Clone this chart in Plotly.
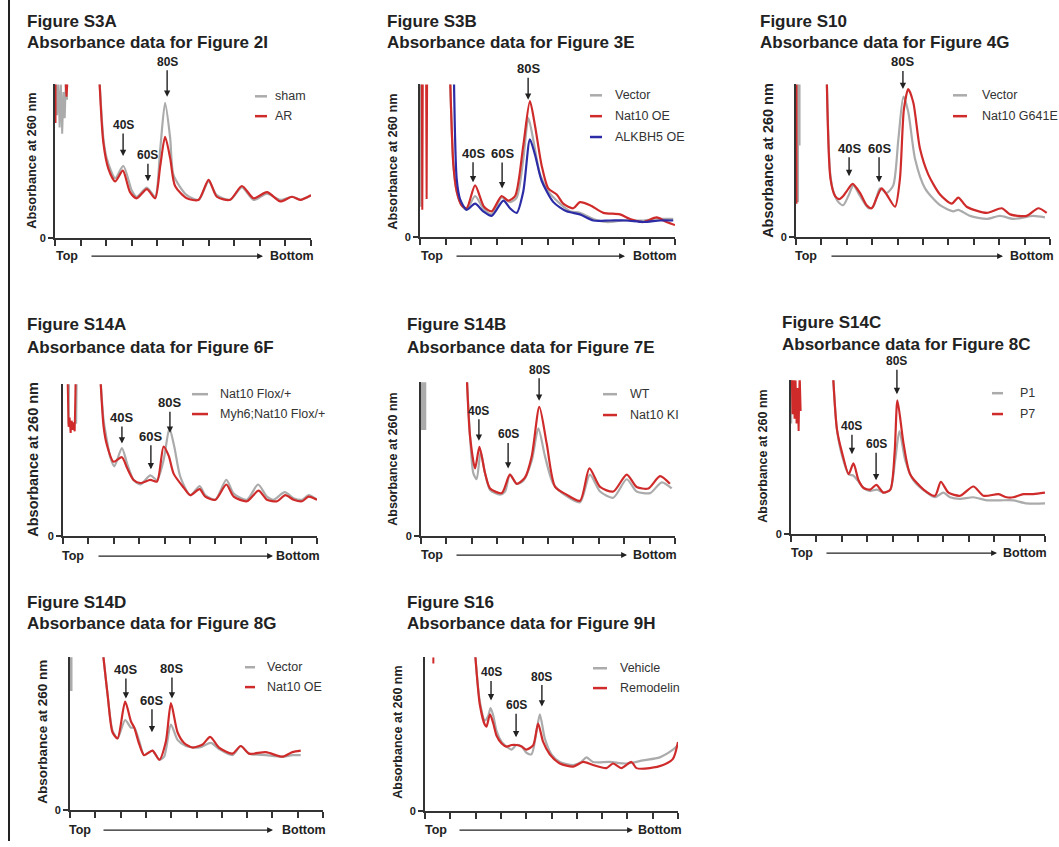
import plotly.graph_objects as go

W, H = 1059, 847
FONT = "Liberation Sans, Arial, Helvetica, sans-serif"
GRAY = "#ababab"
RED = "#cf2b2b"
BLUE = "#2c2ca6"
INK = "#222222"

# ---------------- data (fraction position 0-10, relative A260 0-1) ----------------
# Figure S3A
s3a_sham_x = [1.73, 1.89, 2.02, 2.35, 2.67, 3.00, 3.19, 3.59, 3.91, 4.11, 4.30, 4.50, 4.63, 5.15, 5.61, 6.00, 6.32, 6.84, 7.30, 7.76, 8.28, 8.80, 9.26, 9.58, 10.0]
s3a_sham_y = [1.05, 0.65, 0.52, 0.39, 0.47, 0.31, 0.27, 0.33, 0.27, 0.58, 0.88, 0.65, 0.41, 0.28, 0.25, 0.37, 0.28, 0.25, 0.33, 0.25, 0.29, 0.25, 0.27, 0.25, 0.28]
s3a_ar_x = [1.73, 1.89, 2.09, 2.35, 2.65, 2.93, 3.19, 3.59, 3.91, 4.11, 4.30, 4.50, 4.69, 5.15, 5.61, 6.00, 6.32, 6.84, 7.30, 7.76, 8.28, 8.80, 9.26, 9.58, 10.0]
s3a_ar_y = [1.05, 0.62, 0.45, 0.37, 0.44, 0.30, 0.26, 0.32, 0.26, 0.47, 0.66, 0.52, 0.34, 0.26, 0.25, 0.38, 0.27, 0.25, 0.34, 0.26, 0.30, 0.24, 0.27, 0.25, 0.28]
s3a_sham_spike_x = [0.03, 0.08, 0.13, 0.18, 0.23, 0.28, 0.33, 0.38, 0.43, 0.47]
s3a_sham_spike_y = [1.05, 0.80, 1.02, 0.72, 1.00, 0.68, 0.95, 0.78, 1.05, 0.90]
s3a_ar_spike_x = [0.02, 0.02, None, 0.40, 0.45, 0.50]
s3a_ar_spike_y = [1.05, 0.75, None, 1.05, 0.92, 1.05]

# Figure S3B
s3b_vec_x = [1.18, 1.31, 1.44, 1.63, 1.83, 2.16, 2.48, 2.81, 3.20, 3.53, 3.79, 4.05, 4.25, 4.44, 4.71, 5.03, 5.49, 5.88, 6.27, 6.80, 7.32, 7.97, 8.76, 9.41, 9.93]
s3b_vec_y = [1.05, 0.47, 0.30, 0.21, 0.18, 0.27, 0.19, 0.15, 0.26, 0.23, 0.26, 0.51, 0.78, 0.64, 0.41, 0.30, 0.22, 0.17, 0.16, 0.12, 0.10, 0.11, 0.11, 0.12, 0.12]
s3b_nat_x = [1.18, 1.31, 1.44, 1.63, 1.83, 2.16, 2.51, 2.81, 3.20, 3.46, 3.73, 4.05, 4.31, 4.51, 4.77, 5.03, 5.36, 5.62, 6.01, 6.27, 6.67, 7.19, 7.84, 8.24, 8.76, 9.28, 9.67, 10.0]
s3b_nat_y = [1.05, 0.47, 0.30, 0.21, 0.19, 0.34, 0.20, 0.17, 0.27, 0.24, 0.27, 0.60, 0.89, 0.73, 0.47, 0.32, 0.28, 0.22, 0.19, 0.23, 0.21, 0.16, 0.15, 0.12, 0.10, 0.13, 0.10, 0.08]
s3b_alk_x = [1.33, 1.44, 1.57, 1.83, 2.16, 2.48, 2.81, 3.27, 3.53, 3.79, 4.05, 4.31, 4.51, 4.77, 5.23, 5.75, 6.27, 6.80, 7.45, 8.10, 8.76, 9.41, 9.93]
s3b_alk_y = [1.05, 0.38, 0.25, 0.18, 0.22, 0.17, 0.14, 0.24, 0.19, 0.16, 0.30, 0.64, 0.54, 0.37, 0.23, 0.17, 0.15, 0.11, 0.11, 0.11, 0.10, 0.11, 0.11]
s3b_vec_spike_x = [0.04, 0.04]
s3b_vec_spike_y = [1.05, 0.20]
s3b_nat_spike_x = [0.07, 0.09, 0.11, None, 0.24, 0.26, 0.28]
s3b_nat_spike_y = [1.05, 0.18, 1.05, None, 1.05, 0.25, 1.05]

# Figure S10
s10_vec_x = [1.21, 1.34, 1.47, 1.67, 1.86, 2.06, 2.26, 2.52, 2.85, 3.04, 3.31, 3.57, 3.83, 4.03, 4.23, 4.42, 4.69, 5.08, 5.67, 6.19, 6.39, 6.85, 7.51, 8.03, 8.56, 9.34, 9.80]
s10_vec_y = [1.05, 0.43, 0.30, 0.23, 0.21, 0.27, 0.34, 0.27, 0.19, 0.20, 0.32, 0.29, 0.34, 0.64, 0.92, 0.82, 0.51, 0.32, 0.21, 0.17, 0.18, 0.14, 0.12, 0.14, 0.12, 0.14, 0.13]
s10_mut_x = [1.21, 1.36, 1.54, 1.71, 1.86, 1.99, 2.23, 2.52, 2.78, 2.98, 3.18, 3.37, 3.57, 3.90, 4.09, 4.25, 4.42, 4.62, 4.88, 5.21, 5.67, 6.13, 6.39, 6.72, 7.51, 8.10, 8.43, 9.08, 9.54, 9.87]
s10_mut_y = [1.05, 0.38, 0.27, 0.25, 0.27, 0.30, 0.35, 0.29, 0.21, 0.19, 0.26, 0.32, 0.28, 0.20, 0.38, 0.84, 0.97, 0.88, 0.58, 0.41, 0.28, 0.22, 0.26, 0.20, 0.16, 0.19, 0.15, 0.14, 0.19, 0.16]
s10_vec_spike_x = [0.08, 0.08, None, 0.14, 0.14]
s10_vec_spike_y = [1.05, 0.23, None, 1.05, 0.60]
s10_mut_spike_x = [0.02, 0.02]
s10_mut_spike_y = [1.05, 0.22]

# Figure S14A
s14a_flox_x = [1.47, 1.60, 1.73, 1.86, 2.02, 2.32, 2.52, 2.78, 3.04, 3.44, 3.70, 3.96, 4.19, 4.38, 4.62, 5.01, 5.38, 5.60, 6.00, 6.43, 6.72, 7.24, 7.68, 8.03, 8.29, 8.73, 9.08, 9.41, 9.67, 10.0]
s14a_flox_y = [1.05, 0.76, 0.63, 0.52, 0.46, 0.58, 0.48, 0.37, 0.34, 0.40, 0.37, 0.50, 0.71, 0.59, 0.39, 0.27, 0.33, 0.27, 0.24, 0.37, 0.28, 0.24, 0.34, 0.26, 0.24, 0.29, 0.25, 0.24, 0.27, 0.24]
s14a_myh6_x = [1.47, 1.60, 1.73, 1.99, 2.32, 2.52, 2.78, 3.04, 3.44, 3.70, 3.96, 4.16, 4.36, 4.75, 5.01, 5.38, 5.60, 6.00, 6.43, 6.72, 7.24, 7.70, 8.03, 8.43, 8.75, 9.08, 9.41, 9.67, 10.0]
s14a_myh6_y = [1.05, 0.72, 0.60, 0.49, 0.52, 0.45, 0.37, 0.35, 0.37, 0.36, 0.59, 0.53, 0.41, 0.32, 0.27, 0.31, 0.26, 0.24, 0.34, 0.26, 0.23, 0.30, 0.24, 0.23, 0.27, 0.24, 0.23, 0.26, 0.24]
s14a_flox_spike_x = [0.20, 0.22, 0.24, None, 0.50, 0.52, 0.54]
s14a_flox_spike_y = [1.05, 0.74, 1.05, None, 1.05, 0.74, 1.05]
s14a_myh6_spike_x = [0.18, 0.22, 0.26, 0.30, 0.34, 0.38, 0.42, 0.46, 0.50]
s14a_myh6_spike_y = [1.05, 0.72, 0.78, 0.68, 0.76, 0.70, 0.75, 0.69, 1.05]

# Figure S14B
s14b_wt_x = [1.80, 1.93, 2.06, 2.19, 2.35, 2.52, 2.72, 3.11, 3.31, 3.50, 3.77, 4.03, 4.36, 4.62, 4.88, 5.21, 5.73, 6.26, 6.65, 7.05, 7.57, 8.10, 8.49, 9.02, 9.48, 9.87]
s14b_wt_y = [1.05, 0.65, 0.41, 0.37, 0.55, 0.41, 0.30, 0.27, 0.29, 0.40, 0.34, 0.36, 0.49, 0.70, 0.52, 0.34, 0.26, 0.22, 0.40, 0.29, 0.25, 0.37, 0.29, 0.28, 0.35, 0.31]
s14b_ki_x = [1.80, 1.93, 2.13, 2.30, 2.52, 2.72, 3.18, 3.50, 3.77, 4.09, 4.36, 4.66, 4.95, 5.28, 5.73, 6.26, 6.63, 7.05, 7.57, 8.10, 8.49, 8.95, 9.41, 9.80]
s14b_ki_y = [1.05, 0.65, 0.44, 0.58, 0.41, 0.31, 0.28, 0.40, 0.34, 0.38, 0.52, 0.84, 0.60, 0.32, 0.27, 0.23, 0.44, 0.32, 0.29, 0.40, 0.32, 0.31, 0.39, 0.34]
s14b_wt_spike_x = [0.07, 0.07]
s14b_wt_spike_y = [1.05, 0.69]

# Figure S14C
s14c_p1_x = [1.65, 1.81, 2.01, 2.27, 2.46, 2.62, 2.86, 3.12, 3.38, 3.64, 3.91, 4.10, 4.27, 4.50, 4.82, 5.35, 5.67, 6.00, 6.26, 6.66, 7.18, 7.71, 8.23, 8.75, 9.28, 10.0]
s14c_p1_y = [1.05, 0.68, 0.51, 0.39, 0.38, 0.35, 0.30, 0.28, 0.29, 0.27, 0.29, 0.48, 0.67, 0.48, 0.35, 0.27, 0.24, 0.27, 0.24, 0.23, 0.24, 0.22, 0.22, 0.22, 0.20, 0.20]
s14c_p7_x = [1.65, 1.81, 2.01, 2.27, 2.46, 2.66, 2.86, 3.12, 3.36, 3.64, 3.91, 4.08, 4.19, 4.43, 4.69, 5.22, 5.67, 5.90, 6.20, 6.66, 7.18, 7.58, 8.17, 8.49, 8.75, 9.15, 9.54, 10.0]
s14c_p7_y = [1.05, 0.68, 0.53, 0.39, 0.46, 0.35, 0.30, 0.29, 0.32, 0.27, 0.29, 0.53, 0.87, 0.59, 0.39, 0.29, 0.25, 0.34, 0.27, 0.25, 0.31, 0.25, 0.26, 0.24, 0.24, 0.26, 0.26, 0.27]
s14c_p1_spike_x = [0.01, 0.01]
s14c_p1_spike_y = [1.05, 0.72]
s14c_p7_spike_x = [0.03, 0.06, 0.10, 0.14, 0.18, 0.22, 0.26, 0.30, 0.34, 0.38]
s14c_p7_spike_y = [1.05, 0.78, 1.05, 0.75, 1.00, 0.72, 0.95, 0.67, 1.05, 0.80]

# Figure S14D
s14d_vec_x = [1.29, 1.49, 1.68, 1.88, 2.18, 2.41, 2.54, 2.74, 2.93, 3.26, 3.53, 3.72, 3.99, 4.25, 4.58, 5.11, 5.57, 5.89, 6.42, 6.75, 7.08, 7.74, 8.39, 8.79, 9.12]
s14d_vec_y = [1.05, 0.75, 0.52, 0.47, 0.59, 0.54, 0.54, 0.45, 0.36, 0.39, 0.33, 0.35, 0.56, 0.46, 0.42, 0.41, 0.44, 0.40, 0.36, 0.42, 0.37, 0.36, 0.35, 0.36, 0.36]
s14d_oe_x = [1.29, 1.49, 1.68, 1.88, 2.18, 2.41, 2.54, 2.74, 2.93, 3.26, 3.53, 3.79, 3.99, 4.25, 4.51, 4.84, 5.24, 5.54, 5.89, 6.42, 6.75, 7.08, 7.74, 8.39, 8.79, 9.12]
s14d_oe_y = [1.05, 0.75, 0.51, 0.47, 0.71, 0.58, 0.54, 0.43, 0.36, 0.39, 0.33, 0.45, 0.70, 0.51, 0.44, 0.41, 0.43, 0.48, 0.41, 0.37, 0.42, 0.37, 0.38, 0.35, 0.38, 0.39]
s14d_vec_spike_x = [0.02, 0.02]
s14d_vec_spike_y = [1.05, 0.78]

# Figure S16
s16_veh_x = [1.97, 2.17, 2.37, 2.50, 2.59, 2.70, 2.83, 3.03, 3.22, 3.42, 3.62, 3.82, 4.01, 4.21, 4.41, 4.54, 4.74, 5.00, 5.33, 5.86, 6.18, 6.38, 6.64, 7.30, 7.96, 8.62, 9.28, 9.80, 10.0]
s16_veh_y = [1.05, 0.71, 0.59, 0.62, 0.67, 0.62, 0.52, 0.45, 0.42, 0.40, 0.43, 0.42, 0.38, 0.37, 0.52, 0.63, 0.47, 0.37, 0.32, 0.30, 0.32, 0.35, 0.32, 0.32, 0.31, 0.33, 0.35, 0.40, 0.43]
s16_rem_x = [1.97, 2.17, 2.37, 2.43, 2.57, 2.70, 2.83, 3.03, 3.22, 3.42, 3.62, 3.82, 4.01, 4.28, 4.47, 4.67, 4.93, 5.33, 5.86, 6.25, 6.64, 7.17, 7.43, 7.76, 8.16, 8.36, 8.88, 9.41, 9.80, 10.0]
s16_rem_y = [1.05, 0.69, 0.56, 0.55, 0.63, 0.57, 0.49, 0.44, 0.42, 0.43, 0.43, 0.42, 0.40, 0.43, 0.57, 0.45, 0.37, 0.31, 0.29, 0.32, 0.30, 0.28, 0.31, 0.28, 0.32, 0.28, 0.28, 0.30, 0.34, 0.45]
s16_rem_spike_x = [0.33, 0.33]
s16_rem_spike_y = [1.00, 0.96]

# peak label positions (fraction x, arrow-tip height)
peak_names = ["40S", "60S", "80S"]
s3a_peaks = [(2.66, 0.535), (3.63, 0.37), (4.38, 0.92)]
s3b_peaks = [(2.08, 0.36), (3.22, 0.32), (4.24, 0.90)]
s10_peaks = [(2.09, 0.40), (3.27, 0.36), (4.21, 0.97)]
s14a_peaks = [(2.32, 0.61), (3.46, 0.44), (4.21, 0.68)]
s14b_peaks = [(2.28, 0.62), (3.43, 0.44), (4.65, 0.88)]
s14c_peaks = [(2.40, 0.52), (3.35, 0.35), (4.17, 0.91)]
s14d_peaks = [(2.21, 0.73), (3.24, 0.51), (4.03, 0.73)]
s16_peaks = [(2.61, 0.72), (3.60, 0.48), (4.62, 0.68)]

# ---------------- panel layout (pixels) ----------------
panels = [
    dict(t1="Figure S3A", t2="Absorbance data for Figure 2I", tx=25, ty=(22, 43),
         box=(55, 311, 85, 240), ylab=(32, 162, 12.8), lab_size=12, arrow_len=(25, 20, 29),
         peaks=s3a_peaks, topbot=(67, 90, 263, 292, 258), leg=(255, 267, 273, [97, 117]),
         series=[("sham", GRAY, s3a_sham_x, s3a_sham_y, s3a_sham_spike_x, s3a_sham_spike_y, 2),
                 ("AR", RED, s3a_ar_x, s3a_ar_y, s3a_ar_spike_x, s3a_ar_spike_y, 2)]),
    dict(t1="Figure S3B", t2="Absorbance data for Figure 3E", tx=385, ty=(22, 43),
         box=(420, 675, 85, 239), ylab=(393, 163, 12.8), lab_size=13, arrow_len=(23, 29, 25),
         peaks=s3b_peaks, topbot=(432, 455, 625, 655, 258), leg=(590, 602, 613, [96, 117, 138]),
         series=[("Vector", GRAY, s3b_vec_x, s3b_vec_y, s3b_vec_spike_x, s3b_vec_spike_y, 2),
                 ("Nat10 OE", RED, s3b_nat_x, s3b_nat_y, s3b_nat_spike_x, s3b_nat_spike_y, 2),
                 ("ALKBH5 OE", BLUE, s3b_alk_x, s3b_alk_y, None, None, 2)]),
    dict(t1="Figure S10", t2="Absorbance data for Figure 4G", tx=758, ty=(22, 43),
         box=(796, 1050, 85, 239), ylab=(768, 162, 14.5), lab_size=13, arrow_len=(22, 28, 21),
         peaks=s10_peaks, topbot=(806, 830, 1003, 1032, 258), leg=(953, 967, 980, [96, 117]),
         series=[("Vector", GRAY, s10_vec_x, s10_vec_y, s10_vec_spike_x, s10_vec_spike_y, 2),
                 ("Nat10 G641E", RED, s10_mut_x, s10_mut_y, s10_mut_spike_x, s10_mut_spike_y, 2)]),
    dict(t1="Figure S14A", t2="Absorbance data for Figure 6F", tx=25, ty=(327, 350),
         box=(63, 317, 387, 540), ylab=(33, 463, 14.5), lab_size=13, arrow_len=(20, 27, 24),
         peaks=s14a_peaks, topbot=(73, 97, 273, 298, 560), leg=(192, 208, 218, [397, 417]),
         series=[("Nat10 Flox/+", GRAY, s14a_flox_x, s14a_flox_y, s14a_flox_spike_x, s14a_flox_spike_y, 2),
                 ("Myh6;Nat10 Flox/+", RED, s14a_myh6_x, s14a_myh6_y, s14a_myh6_spike_x, s14a_myh6_spike_y, 2)]),
    dict(t1="Figure S14B", t2="Absorbance data for Figure 7E", tx=405, ty=(327, 350),
         box=(421, 675, 385, 540), ylab=(393, 463, 12.5), lab_size=12, arrow_len=(24, 28, 25),
         peaks=s14b_peaks, topbot=(432, 455, 627, 655, 559), leg=(603, 617, 628, [397, 418]),
         series=[("WT", GRAY, s14b_wt_x, s14b_wt_y, s14b_wt_spike_x, s14b_wt_spike_y, 7),
                 ("Nat10 KI", RED, s14b_ki_x, s14b_ki_y, None, None, 2)]),
    dict(t1="Figure S14C", t2="Absorbance data for Figure 8C", tx=780, ty=(325, 347),
         box=(791, 1045, 383, 538), ylab=(763, 460, 12.5), lab_size=12, arrow_len=(22, 30, 27),
         peaks=s14c_peaks, topbot=(802, 825, 997, 1025, 557), leg=(992, 1003, 1018, [396, 417]),
         series=[("P1", GRAY, s14c_p1_x, s14c_p1_y, s14c_p1_spike_x, s14c_p1_spike_y, 2),
                 ("P7", RED, s14c_p7_x, s14c_p7_y, s14c_p7_spike_x, s14c_p7_spike_y, 2)]),
    dict(t1="Figure S14D", t2="Absorbance data for Figure 8G", tx=25, ty=(607, 628),
         box=(70, 323, 662, 816), ylab=(43, 737, 13.5), lab_size=13, arrow_len=(23, 26, 24),
         peaks=s14d_peaks, topbot=(80, 102, 273, 304, 836), leg=(245, 255, 265, [672, 692]),
         series=[("Vector", GRAY, s14d_vec_x, s14d_vec_y, s14d_vec_spike_x, s14d_vec_spike_y, 4),
                 ("Nat10 OE", RED, s14d_oe_x, s14d_oe_y, None, None, 2)]),
    dict(t1="Figure S16", t2="Absorbance data for Figure 9H", tx=405, ty=(607, 628),
         box=(425, 678, 662, 817), ylab=(398, 738, 12.5), lab_size=12, arrow_len=(22, 26, 24),
         peaks=s16_peaks, topbot=(436, 458, 633, 660, 836), leg=(593, 607, 618, [673, 693]),
         series=[("Vehicle", GRAY, s16_veh_x, s16_veh_y, None, None, 2),
                 ("Remodelin", RED, s16_rem_x, s16_rem_y, s16_rem_spike_x, s16_rem_spike_y, 2)]),
]


def px(x):
    return x / W


def py(y):
    return 1 - y / H


fig = go.Figure()
annotations = []
shapes = []
layout = dict(width=W, height=H, margin=dict(l=0, r=0, t=0, b=0),
              paper_bgcolor="white", plot_bgcolor="white", showlegend=False,
              font=dict(family=FONT, color=INK))

for i, p in enumerate(panels, start=1):
    xa, ya = f"x{i}", f"y{i}"
    x0, x1, yt, yb = p["box"]
    layout[f"xaxis{i}"] = dict(domain=[px(x0), px(x1)], anchor=ya, range=[0, 10],
                               showgrid=False, zeroline=False, showline=True, linecolor="#333",
                               linewidth=2, ticks="outside", tickvals=list(range(11)), ticklen=6,
                               tickwidth=1.5, tickcolor="#333", showticklabels=False, fixedrange=True)
    layout[f"yaxis{i}"] = dict(domain=[py(yb), py(yt)], anchor=xa, range=[0, 1],
                               showgrid=False, zeroline=False, showline=True, linecolor="#333",
                               linewidth=2, ticks="outside", tickvals=[0], ticktext=["<b>0</b>"],
                               ticklen=5, tickwidth=1.5, tickcolor="#333",
                               tickfont=dict(size=11, family=FONT, color=INK), fixedrange=True)

    # traces
    for name, col, sx, sy, spx, spy, spw in p["series"]:
        if spx is not None:
            fig.add_trace(go.Scatter(x=spx, y=spy, mode="lines", xaxis=xa, yaxis=ya,
                                     line=dict(color=col, width=spw), hoverinfo="skip",
                                     connectgaps=False, showlegend=False))
        fig.add_trace(go.Scatter(x=sx, y=sy, mode="lines", xaxis=xa, yaxis=ya, name=name,
                                 line=dict(color=col, width=2.2, shape="spline", smoothing=0.7),
                                 hoverinfo="skip", showlegend=False))

    # titles
    annotations.append(dict(text="<b>" + p["t1"] + "</b>", xref="paper", yref="paper",
                            x=px(p["tx"]), y=py(p["ty"][0]), xanchor="left", yanchor="middle",
                            showarrow=False, font=dict(size=17, family=FONT, color=INK)))
    annotations.append(dict(text="<b>" + p["t2"] + "</b>", xref="paper", yref="paper",
                            x=px(p["tx"]), y=py(p["ty"][1]), xanchor="left", yanchor="middle",
                            showarrow=False, font=dict(size=17, family=FONT, color=INK)))
    # y label
    lx, ly, ls = p["ylab"]
    annotations.append(dict(text="<b>Absorbance at 260 nm</b>", xref="paper", yref="paper",
                            x=px(lx), y=py(ly), xanchor="center", yanchor="middle", textangle=-90,
                            showarrow=False, font=dict(size=ls, family=FONT, color=INK)))
    # peak labels
    for (pxv, pyv), nm, al in zip(p["peaks"], peak_names, p["arrow_len"]):
        annotations.append(dict(text="<b>" + nm + "</b>", xref=xa, yref=ya, x=pxv, y=pyv,
                                ax=0, ay=-al - 6, showarrow=True, arrowhead=2, arrowsize=0.9,
                                arrowwidth=1.4, arrowcolor=INK, standoff=0,
                                font=dict(size=p["lab_size"], family=FONT, color=INK)))
    # Top -> Bottom
    tcx, a0, a1, bcx, tby = p["topbot"]
    annotations.append(dict(text="<b>Top</b>", xref="paper", yref="paper", x=px(tcx), y=py(tby),
                            xanchor="center", yanchor="middle", showarrow=False,
                            font=dict(size=12.5, family=FONT, color=INK)))
    annotations.append(dict(text="<b>Bottom</b>", xref="paper", yref="paper", x=px(bcx), y=py(tby),
                            xanchor="center", yanchor="middle", showarrow=False,
                            font=dict(size=12.5, family=FONT, color=INK)))
    annotations.append(dict(text="", xref="paper", yref="paper", x=px(a1), y=py(tby),
                            ax=-(a1 - a0), ay=0, showarrow=True, arrowhead=2, arrowsize=0.9,
                            arrowwidth=1.3, arrowcolor=INK))
    # legend (manual)
    lx0, lx1, ltx, rows = p["leg"]
    for (name, col, *_), ry in zip(p["series"], rows):
        shapes.append(dict(type="line", xref="paper", yref="paper", x0=px(lx0), x1=px(lx1),
                           y0=py(ry), y1=py(ry), line=dict(color=col, width=2.5)))
        annotations.append(dict(text=name, xref="paper", yref="paper", x=px(ltx), y=py(ry),
                                xanchor="left", yanchor="middle", showarrow=False,
                                font=dict(size=12.5, family=FONT, color="#333")))

# page border line on the left
shapes.append(dict(type="line", xref="paper", yref="paper", x0=px(9), x1=px(9), y0=0, y1=1,
                   line=dict(color=INK, width=2)))

layout["annotations"] = annotations
layout["shapes"] = shapes
fig.update_layout(**layout)
fig.write_html("out.html")
